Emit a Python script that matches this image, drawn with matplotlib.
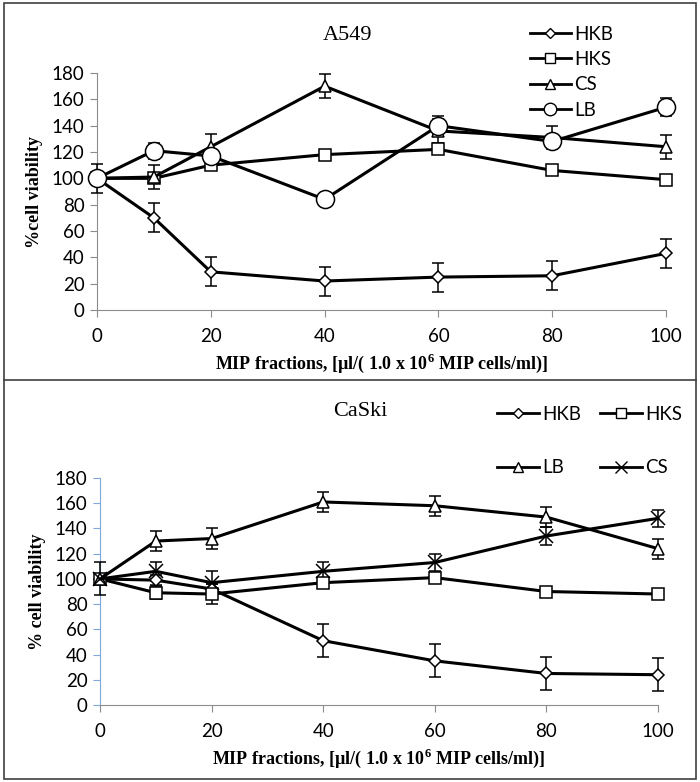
import matplotlib
matplotlib.use('Agg')
import matplotlib.pyplot as plt
from matplotlib.lines import Line2D
from matplotlib.patches import Rectangle
import numpy as np

## DATA
doses = [0, 10, 20, 40, 60, 80, 100]

# A549
a549_hkb = [100, 70, 29, 22, 25, 26, 43]
a549_hkb_err = [11, 11, 11, 11, 11, 11, 11]
a549_hks = [100, 100, 110, 118, 122, 106, 99]
a549_hks_err = [2, 2, 2, 3, 3, 2, 2]
a549_cs = [100, 101, 124, 170, 136, 131, 124]
a549_cs_err = [3, 9, 10, 9, 9, 9, 9]
a549_lb = [100, 121, 117, 84, 140, 128, 154]
a549_lb_err = [3, 6, 3, 1, 7, 4, 7]

# CaSki
caski_hkb = [100, 99, 92, 51, 35, 25, 24]
caski_hkb_err = [3, 4, 4, 13, 13, 13, 13]
caski_hks = [100, 89, 88, 97, 101, 90, 88]
caski_hks_err = [13, 5, 8, 2, 2, 2, 2]
caski_lb = [100, 130, 132, 161, 158, 149, 124]
caski_lb_err = [3, 8, 8, 8, 8, 8, 8]
caski_cs = [100, 106, 97, 106, 113, 134, 148]
caski_cs_err = [3, 7, 9, 7, 7, 7, 7]

yticks = [0, 20, 40, 60, 80, 100, 120, 140, 160, 180]
xticks = [0, 20, 40, 60, 80, 100]

tick_font = 'Lato'
serif = 'Liberation Serif'
plt.rcParams['mathtext.fontset'] = 'custom'
plt.rcParams['mathtext.bf'] = 'Liberation Serif:bold'
plt.rcParams['mathtext.rm'] = 'Liberation Serif'
xlabel = r'MIP fractions, [µl/( 1.0 x 10$^{\mathbf{6}}$ MIP cells/ml)]'

styles = {
    'HKB': dict(marker='D', markersize=6),
    'HKS': dict(marker='s', markersize=8),
    'CS_tri': dict(marker='^', markersize=9),
    'LB_circ': dict(marker='o', markersize=13),
    'CS_x': dict(marker='x', markersize=10),
}


def draw(ax, y, err, st):
    ax.errorbar(doses, y, yerr=err, color='black', lw=2.2, ecolor='black',
                elinewidth=1.1, capsize=4, capthick=1.1, zorder=3,
                markerfacecolor='white', markeredgecolor='black',
                markeredgewidth=1.1, clip_on=False, **st)


def style_axes(ax, spine_color, ylab):
    ax.set_xlim(0, 100)
    ax.set_ylim(0, 180)
    ax.set_xticks(xticks)
    ax.set_yticks(yticks)
    for s in ['top', 'right']:
        ax.spines[s].set_visible(False)
    ax.spines['bottom'].set_color('#8c8c8c')
    ax.spines['left'].set_color(spine_color)
    ax.tick_params(axis='x', colors='#8c8c8c', labelcolor='black', length=5, direction='out', pad=8)
    ax.tick_params(axis='y', colors=spine_color, labelcolor='black', length=5, direction='out', pad=4)
    for lab in ax.get_xticklabels() + ax.get_yticklabels():
        lab.set_fontfamily(tick_font)
        lab.set_fontsize(13.5)
    ax.set_xlabel(xlabel, family=serif, fontweight='bold', fontsize=13, labelpad=5)
    ax.set_ylabel(ylab, family=serif, fontweight='bold', fontsize=13, labelpad=6)


fig = plt.figure(figsize=(7, 7.82), dpi=100)

# frames
fig.patches.append(Rectangle((0.006, 0.004), 0.988, 0.992, transform=fig.transFigure,
                             fill=False, edgecolor='#404040', lw=1.2))
fig.lines.append(Line2D([0.006, 0.994], [1 - 380 / 782, 1 - 380 / 782], transform=fig.transFigure,
                        color='#404040', lw=1.2))

# top panel: A549
ax1 = fig.add_axes([97 / 700, 1 - 310 / 782, (666 - 97) / 700, (310 - 73) / 782])
draw(ax1, a549_hkb, a549_hkb_err, styles['HKB'])
draw(ax1, a549_hks, a549_hks_err, styles['HKS'])
draw(ax1, a549_cs, a549_cs_err, styles['CS_tri'])
draw(ax1, a549_lb, a549_lb_err, styles['LB_circ'])
style_axes(ax1, '#8c8c8c', '%cell viability')
fig.text(348 / 700, 1 - 36 / 782, 'A549', family=serif, fontsize=16, ha='center', va='center')


def handle(st, ms):
    return Line2D([], [], color='black', lw=2, marker=st['marker'], markersize=ms,
                  markerfacecolor='white', markeredgecolor='black', markeredgewidth=1)


h1 = [handle(styles['HKB'], 5), handle(styles['HKS'], 7), handle(styles['CS_tri'], 7), handle(styles['LB_circ'], 9)]
fig.legend(h1, ['HKB', 'HKS', 'CS', 'LB'], loc='upper left', bbox_to_anchor=(522 / 700, 1 - 18 / 782),
           frameon=False, prop={'family': tick_font, 'size': 13.5}, handlelength=2.2,
           handletextpad=0.2, labelspacing=0.45, borderaxespad=0)

# bottom panel: CaSki
ax2 = fig.add_axes([100 / 700, 1 - 705 / 782, (658 - 100) / 700, (705 - 478) / 782])
draw(ax2, caski_hkb, caski_hkb_err, styles['HKB'])
draw(ax2, caski_hks, caski_hks_err, styles['HKS'])
draw(ax2, caski_lb, caski_lb_err, styles['CS_tri'])
draw(ax2, caski_cs, caski_cs_err, styles['CS_x'])
style_axes(ax2, '#7fa7d9', '% cell viability')
fig.text(360 / 700, 1 - 411 / 782, 'CaSki', family=serif, fontsize=16, ha='center', va='center')

h2 = [handle(styles['HKB'], 5), handle(styles['CS_tri'], 7), handle(styles['HKS'], 7), handle(styles['CS_x'], 8)]
fig.legend(h2, ['HKB', 'LB', 'HKS', 'CS'], loc='upper left', bbox_to_anchor=(490 / 700, 1 - 398 / 782),
           ncol=2, frameon=False, prop={'family': tick_font, 'size': 13.5}, handlelength=2.2,
           handletextpad=0.2, labelspacing=1.95, columnspacing=1.0, borderaxespad=0)

plt.savefig('out.png', dpi=100)
